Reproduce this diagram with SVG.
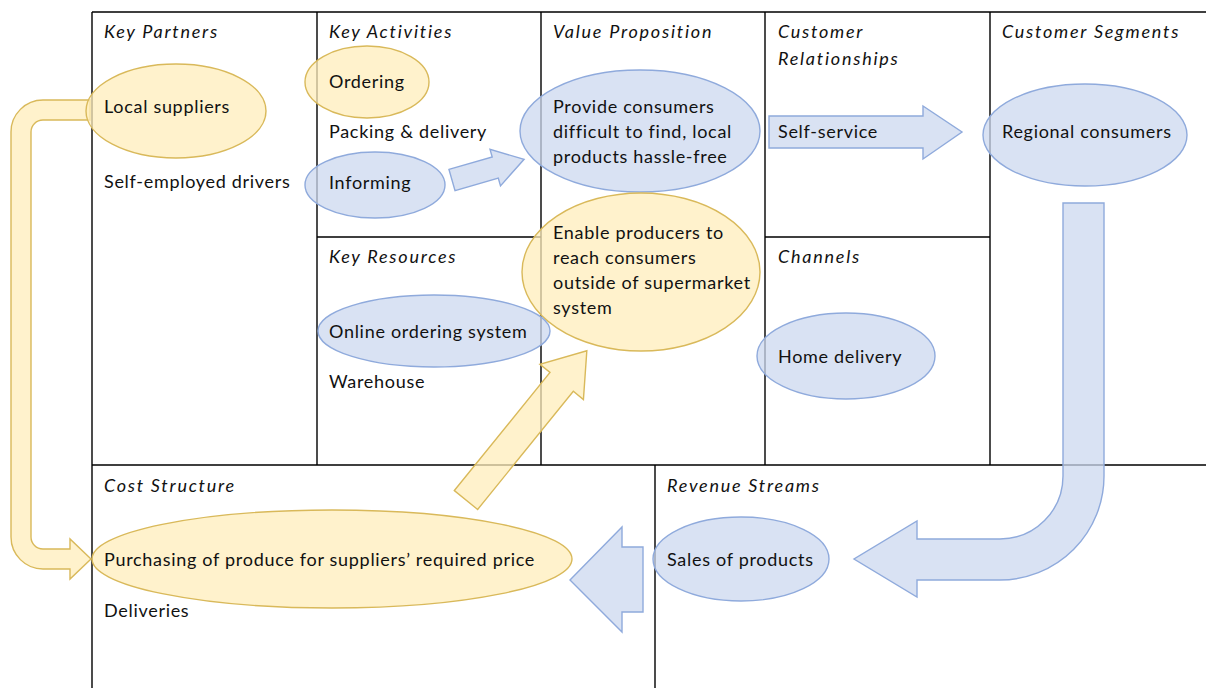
<svg xmlns="http://www.w3.org/2000/svg" width="1206" height="688" viewBox="0 0 1206 688">
<style>
text{font-family:Lato,"Liberation Sans",sans-serif;font-size:18px;fill:#111;letter-spacing:0.7px}
.h{font-style:italic;letter-spacing:1.75px}
.grid{stroke:#000;stroke-width:1.4;fill:none}
.y{fill:#FFEEBB;fill-opacity:0.75;stroke:#D9B95A;stroke-width:1.4}
.b{fill:#CCD8EF;fill-opacity:0.75;stroke:#8FAADC;stroke-width:1.4}
</style>
<rect width="1206" height="688" fill="#fff"/>
<g id="grid" class="grid">
<path d="M92,12 H1206 M92,12 V688 M317,12 V465 M541,12 V465 M765,12 V465 M990,12 V465 M317,237 H541 M765,237 H990 M92,465 H1206 M655,465 V688"/>
</g>
<g id="headings">
<text class="h" x="104" y="38">Key Partners</text>
<text class="h" x="329" y="38">Key Activities</text>
<text class="h" x="553" y="38">Value Proposition</text>
<text class="h" x="778" y="38">Customer</text>
<text class="h" x="778" y="65">Relationships</text>
<text class="h" x="1002" y="38">Customer Segments</text>
<text class="h" x="329" y="263">Key Resources</text>
<text class="h" x="778" y="263">Channels</text>
<text class="h" x="104" y="492">Cost Structure</text>
<text class="h" x="667" y="492">Revenue Streams</text>
</g>
<g id="connectors">
<path id="c-suppliers-cost" class="y" d="M90,100 H43 A32,32 0 0 0 11,132 V537 A32,32 0 0 0 43,569 H70 V579 L91,559 L70,539 V549 H43 A12,12 0 0 1 31,537 V132 A12,12 0 0 1 43,120 H90 Z"/>
<path id="c-informing-value" class="b" transform="translate(452,180) rotate(-16)" d="M0,-11 H45 V-19 L75,0 L45,19 V11 H0 Z"/>
<path id="c-cost-value" class="y" transform="translate(466,500) rotate(-51)" d="M0,-15 H152 V-28 L192,0 L152,28 V15 H0 Z"/>
<path id="c-segments-revenue" class="b" d="M1063,203 H1104 V476 A104,104 0 0 1 1000,580 H917 V597 L854,559 L917,521 V539 H1000 A63,63 0 0 0 1063,476 Z"/>
<path id="c-revenue-cost" class="b" d="M643,547 V612 H622 V632 L570,580 L622,527 V547 Z"/>
</g>
<g id="n-local-suppliers"><ellipse class="y" cx="176" cy="111" rx="90" ry="47"/><text x="104" y="113">Local suppliers</text></g>
<g id="n-drivers"><text x="104" y="188">Self-employed drivers</text></g>
<g id="n-ordering"><ellipse class="y" cx="367" cy="82" rx="62" ry="36"/><text x="329" y="88">Ordering</text></g>
<g id="n-packing"><text x="329" y="138">Packing &amp; delivery</text></g>
<g id="n-informing"><ellipse class="b" cx="375" cy="185" rx="70" ry="33"/><text x="329" y="189">Informing</text></g>
<g id="n-provide"><ellipse class="b" cx="640" cy="131" rx="120" ry="61"/><text x="553" y="113">Provide consumers</text><text x="553" y="138">difficult to find, local</text><text x="553" y="163">products hassle-free</text></g>
<g id="n-enable"><ellipse class="y" cx="641" cy="272" rx="119" ry="79"/><text x="553" y="239">Enable producers to</text><text x="553" y="264">reach consumers</text><text x="553" y="289">outside of supermarket</text><text x="553" y="314">system</text></g>
<g id="n-online"><ellipse class="b" cx="434" cy="331" rx="116" ry="36"/><text x="329" y="338">Online ordering system</text></g>
<g id="n-warehouse"><text x="329" y="388">Warehouse</text></g>
<g id="n-self-service"><path class="b" d="M769,116 H923 V106 L962,132 L923,159 V148 H769 Z"/><text x="778" y="138">Self-service</text></g>
<g id="n-regional"><ellipse class="b" cx="1085" cy="135" rx="102" ry="51"/><text x="1002" y="138">Regional consumers</text></g>
<g id="n-home"><ellipse class="b" cx="846" cy="356" rx="89" ry="43"/><text x="778" y="363">Home delivery</text></g>
<g id="n-sales"><ellipse class="b" cx="741" cy="559" rx="88" ry="42"/><text x="667" y="566">Sales of products</text></g>
<g id="n-purchasing"><ellipse class="y" cx="332" cy="559" rx="240" ry="49"/><text x="104" y="566">Purchasing of produce for suppliers’ required price</text></g>
<g id="n-deliveries"><text x="104" y="617">Deliveries</text></g>
</svg>
